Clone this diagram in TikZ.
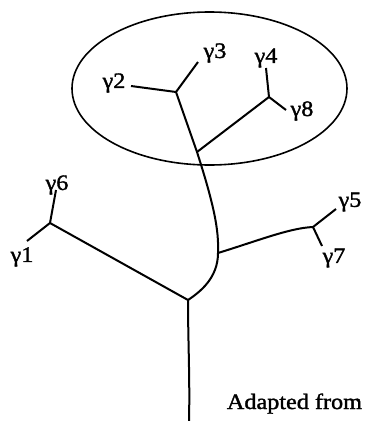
\documentclass[tikz,border=0pt]{standalone}
\usepackage{fontspec}
\setmainfont{Liberation Serif}[FakeStretch=1.1, FakeBold=1.5]
\usepackage{tikz}

\begin{document}
\begin{tikzpicture}[x=1pt,y=-1pt,line width=2pt,
  every node/.style={font=\fontsize{22}{26}\selectfont, inner sep=0pt}]
 \useasboundingbox (0,0) rectangle (365,421);
 \draw (114,83) node (g2) {γ2};
 \draw (215,53) node (g3) {γ3};
 \draw (266,58) node (g4) {γ4};
 \draw (302,111) node (g8) {γ8};
 \draw (350,202) node (g5) {γ5};
 \draw (334,258) node (g7) {γ7};
 \draw (57,185) node (g6) {γ6};
 \draw (22,257) node (g1) {γ1};
 \draw (363,409) node[anchor=base east] (note) {Adapted from};

 \coordinate (e2) at (131,86);
 \coordinate (e3) at (198,62);
 \coordinate (e4) at (266,68);
 \coordinate (e8) at (286,110);
 \coordinate (e5) at (336,209);
 \coordinate (e7) at (322,246);
 \coordinate (e6) at (56,190);
 \coordinate (e1) at (27,241);
 \coordinate (j23) at (176,92);
 \coordinate (j48) at (269,97);
 \coordinate (jin) at (197,152);
 \coordinate (j57) at (313,227);
 \coordinate (jr) at (218,253);
 \coordinate (j16) at (50,223);
 \coordinate (root) at (188,300);
 \coordinate (stem) at (189,421);

 \draw[line width=1.6pt] (209.5,88.5) ellipse (137.5 and 76.5);

 \draw (j23) -- (e2);
 \draw (j23) -- (e3);
 \draw (j48) -- (e4);
 \draw (j48) -- (e8);
 \draw (jin) -- (j48);
 \draw (j23) -- (jin) .. controls (214,205) and (219,230) .. (jr)
   .. controls (218,278) and (200,292) .. (root);
 \draw (jr) .. controls (260,240) and (290,228) .. (j57);
 \draw (j57) -- (e5);
 \draw (j57) -- (e7);
 \draw (root) -- (j16);
 \draw (j16) -- (e6);
 \draw (j16) -- (e1);
 \draw (root) .. controls (188,340) and (190,380) .. (stem);
\end{tikzpicture}
\end{document}
